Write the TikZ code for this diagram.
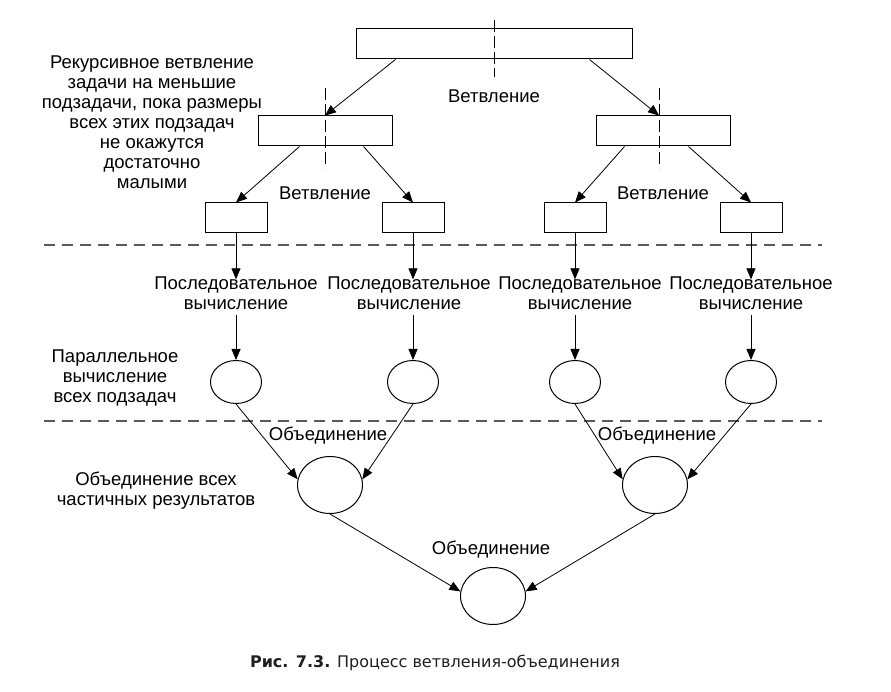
\documentclass[tikz,border=0pt]{standalone}
\usepackage{fontspec}
\setmainfont{Liberation Sans}
\newfontfamily\capfont{DejaVu Sans}
\usetikzlibrary{arrows.meta,shapes.geometric}
\definecolor{dashgray}{HTML}{5A5A5A}
\begin{document}
\begin{tikzpicture}[x=1pt,y=-1pt,
  every node/.style={font=\fontsize{18.5}{20}\selectfont},
  box/.style={draw, line width=1pt, minimum height=30pt, inner sep=0pt},
  bigbox/.style={box, minimum width=276pt},
  midbox/.style={box, minimum width=134pt},
  smallbox/.style={box, minimum width=62pt},
  smallell/.style={ellipse, draw, line width=1pt, inner sep=0pt, minimum width=51pt, minimum height=43pt},
  bigell/.style={ellipse, draw, line width=1pt, inner sep=0pt, minimum width=65pt, minimum height=57pt},
  txt/.style={align=center, inner sep=0pt},
  arr/.style={-{Triangle[length=11pt,width=9pt]}, line width=0.8pt},
  vdash/.style={line width=1pt, dash pattern=on 12pt off 4pt},
  hdash/.style={line width=1.4pt, dashgray, dash pattern=on 11pt off 7pt}
]
\useasboundingbox (0,0) rectangle (891,692);

% separators
\coordinate (h1a) at (44,245); \coordinate (h1b) at (822,245);
\coordinate (h2a) at (44,421); \coordinate (h2b) at (822,421);
\draw[hdash] (h1a) -- (h1b);
\draw[hdash] (h2a) -- (h2b);

% boxes
\node[bigbox] (top) at (494,44) {};
\node[midbox] (ml) at (325,131) {};
\node[midbox] (mr) at (663,131) {};
\node[smallbox] (s1) at (236,218) {};
\node[smallbox] (s2) at (413,218) {};
\node[smallbox] (s3) at (575,218) {};
\node[smallbox] (s4) at (751,218) {};

% dashed vertical lines
\coordinate (v1a) at (494,20); \coordinate (v1b) at (494,77);
\coordinate (v2a) at (325,88); \coordinate (v2b) at (325,168);
\coordinate (v3a) at (659,88); \coordinate (v3b) at (659,168);
\draw[vdash] (v1a) -- (v1b);
\draw[vdash] (v2a) -- (v2b);
\draw[vdash] (v3a) -- (v3b);

% labels
\node[txt] (lrec) at (152,122) {Рекурсивное ветвление\\задачи на меньшие\\подзадачи, пока размеры\\всех этих подзадач\\не окажутся\\достаточно\\малыми};
\node[txt] (b0) at (494,96) {Ветвление};
\node[txt] (b1) at (325,193) {Ветвление};
\node[txt] (b2) at (663,193) {Ветвление};

\node[txt] (p1) at (236,293) {Последовательное\\вычисление};
\node[txt] (p2) at (409,293) {Последовательное\\вычисление};
\node[txt] (p3) at (580,293) {Последовательное\\вычисление};
\node[txt] (p4) at (751,293) {Последовательное\\вычисление};

\node[txt] (lpar) at (115,378) {Параллельное\\вычисление\\всех подзадач};

% circles
\node[smallell] (c1) at (236,382) {};
\node[smallell] (c2) at (413,382) {};
\node[smallell] (c3) at (575,382) {};
\node[smallell] (c4) at (751,382) {};

\node[bigell] (m1) at (330,485) {};
\node[bigell] (m2) at (655,485) {};
\node[bigell] (fin) at (493,596) {};

\node[txt] (o1) at (328,436) {Объединение};
\node[txt] (o2) at (657,436) {Объединение};
\node[txt] (o3) at (491,550) {Объединение};
\node[txt] (lobj) at (156,491) {Объединение всех\\частичных результатов};

% arrows: branching
\draw[arr] ([xshift=40pt]top.south west) -- (ml.north);
\draw[arr] ([xshift=-43pt]top.south east) -- ([xshift=-4pt]mr.north);
\draw[arr] ([xshift=42pt]ml.south west) -- (s1.north);
\draw[arr] ([xshift=-29pt]ml.south east) -- (s2.north);
\draw[arr] ([xshift=29pt]mr.south west) -- (s3.north);
\draw[arr] ([xshift=-42pt]mr.south east) -- (s4.north);

% arrows: sequential
\draw[arr] (s1.south) -- ([yshift=-3pt]s1.south |- p1.north);
\draw[arr] (s2.south) -- ([yshift=-3pt]s2.south |- p2.north);
\draw[arr] (s3.south) -- ([yshift=-3pt]s3.south |- p3.north);
\draw[arr] (s4.south) -- ([yshift=-3pt]s4.south |- p4.north);
\draw[arr] ([yshift=-5pt]c1.north |- p1.south) -- (c1.north);
\draw[arr] ([yshift=-5pt]c2.north |- p2.south) -- (c2.north);
\draw[arr] ([yshift=-5pt]c3.north |- p3.south) -- (c3.north);
\draw[arr] ([yshift=-5pt]c4.north |- p4.south) -- (c4.north);

% arrows: merging
\draw[arr] (c1.south) -- (m1.170);
\draw[arr] (c2.south) -- (m1.10);
\draw[arr] (c3.south) -- (m2.170);
\draw[arr] (c4.south) -- (m2.10);
\draw[arr] (m1.south) -- (fin.172);
\draw[arr] (m2.south) -- (fin.8);

% caption
\node[inner sep=0pt, font=\capfont\fontsize{16}{18}\selectfont, text=black!88] (cap) at (435,663) {\textbf{Рис. 7.3.} Процесс ветвления-объединения};
\end{tikzpicture}
\end{document}
